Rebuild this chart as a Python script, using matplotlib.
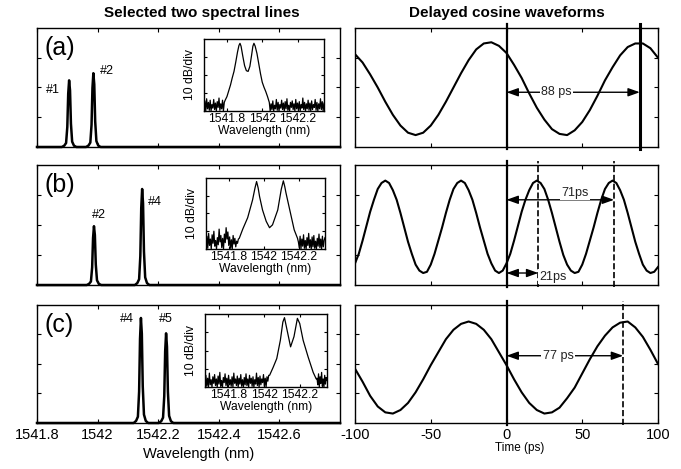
import numpy as np
import matplotlib
matplotlib.use("Agg")
import matplotlib.pyplot as plt

plt.rcParams['font.family'] = ['Liberation Sans', 'DejaVu Sans']

# ---- left column: the two selected lines (normalised height vs wavelength) ----
wl_ticks = [1541.8, 1542.0, 1542.2, 1542.4, 1542.6]
wl_tick_labels = ['1541.8', '1542', '1542.2', '1542.4', '1542.6']

# one measured line profile (offset in nm, relative height), reused for every line
peak_offset = [-0.024, -0.016, -0.010, -0.006, -0.003, 0.0, 0.003, 0.006, 0.010, 0.016, 0.024]
peak_shape = [0.0, 0.02, 0.06, 0.30, 0.80, 1.0, 0.85, 0.35, 0.08, 0.02, 0.0]

line_centres = {'a': [1541.906, 1541.986], 'b': [1541.988, 1542.147], 'c': [1542.143, 1542.226]}
line_heights = {'a': [0.56, 0.62], 'b': [0.49, 0.80], 'c': [0.89, 0.76]}
line_names = {'a': ['#1', '#2'], 'b': ['#2', '#4'], 'c': ['#4', '#5']}
name_pos = {'a': [(1541.853, 0.48), (1542.031, 0.64)],
            'b': [(1542.005, 0.58), (1542.19, 0.69)],
            'c': [(1542.097, 0.88), (1542.226, 0.88)]}

# ---- insets: optical spectrum, 10 dB/div (levels normalised to the box) ----
inset_ticks = [1541.8, 1542.0, 1542.2]
inset_tick_labels = ['1541.8', '1542', '1542.2']

sig_wl = {
    'a': [1541.79, 1541.80, 1541.81, 1541.82, 1541.83, 1541.84, 1541.85, 1541.86, 1541.868, 1541.874,
          1541.88, 1541.89, 1541.90, 1541.91, 1541.92, 1541.93, 1541.94, 1541.947, 1541.953, 1541.96,
          1541.97, 1541.98, 1541.99, 1542.00, 1542.01, 1542.02, 1542.03, 1542.04],
    'b': [1541.86, 1541.88, 1541.908, 1541.936, 1541.95, 1541.959, 1541.968, 1541.976, 1541.993, 1542.014,
          1542.033, 1542.05, 1542.08, 1542.10, 1542.112, 1542.12, 1542.127, 1542.155, 1542.174, 1542.193],
    'c': [1542.03, 1542.05, 1542.07, 1542.09, 1542.104, 1542.113, 1542.13, 1542.147, 1542.166, 1542.185,
          1542.198, 1542.217, 1542.245, 1542.273, 1542.29],
}
sig_lvl = {
    'a': [0.15, 0.20, 0.28, 0.36, 0.46, 0.55, 0.68, 0.82, 0.91, 0.94,
          0.90, 0.76, 0.63, 0.56, 0.55, 0.62, 0.78, 0.90, 0.94, 0.90,
          0.80, 0.66, 0.52, 0.40, 0.33, 0.27, 0.20, 0.12],
    'b': [0.15, 0.28, 0.44, 0.69, 0.86, 0.95, 0.86, 0.74, 0.55, 0.39,
          0.30, 0.34, 0.55, 0.84, 0.96, 0.88, 0.79, 0.48, 0.27, 0.15],
    'c': [0.16, 0.27, 0.39, 0.64, 0.89, 0.95, 0.75, 0.55, 0.69, 0.94,
          0.87, 0.64, 0.41, 0.20, 0.11],
}
# noise floor on either side of the signal, in % of the box height
noise_left = {
    'a': [2, 14, 0, 17, 3, 12, 1, 15, 0, 9, 4, 16, 2, 11, 0, 13, 5, 18, 1, 10, 3, 15, 0, 12],
    'b': [3, 18, 1, 22, 5, 14, 0, 20, 8, 25, 4, 12, 0, 16, 6, 28, 10, 19, 2, 15, 0, 21, 9, 30,
          14, 24, 5, 17, 1, 13, 0, 19, 7, 15, 3, 11, 8, 14],
    'c': [4, 16, 1, 12, 0, 19, 3, 10, 0, 14, 5, 17, 2, 11, 0, 15, 4, 20, 1, 9, 0, 13, 6, 18, 2,
          12, 0, 16, 3, 10, 1, 14, 0, 19, 5, 11, 2, 15, 0, 12, 4, 17, 1, 10, 0, 13, 3, 18, 2, 11,
          0, 16, 5, 12, 1, 14, 0, 10, 4, 19, 2, 13, 0, 15, 3, 11, 6, 17, 1, 12, 0, 14, 8, 16],
}
noise_right = {
    'a': [0, 10, 2, 14, 0, 8, 3, 16, 1, 12, 0, 9, 4, 15, 2, 11, 0, 13, 3, 17, 1, 8, 0, 12, 5, 14,
          2, 10, 0, 16, 3, 11, 1, 13, 0, 9, 4, 18, 2, 12, 0, 10, 3, 15, 1, 11, 0, 14, 2, 9, 5, 16,
          1, 12, 0, 10, 3, 17, 2, 13, 0, 11],
    'b': [10, 2, 18, 0, 14, 4, 20, 1, 12, 0, 16, 5, 22, 2, 13, 0, 17, 3, 19, 1, 11, 0, 15, 4, 21,
          2, 14, 0, 18, 3, 12, 16],
    'c': [12, 3, 18, 0, 14, 5, 20, 1, 11, 0, 16, 4, 13, 9],
}
inset_xlim = (1541.67, 1542.35)

# ---- right column: delayed cosine waveforms ----
time_a = np.arange(-100, 101, 5)
wave_a = [0.78, 0.71, 0.61, 0.50, 0.38, 0.27, 0.18, 0.12, 0.10, 0.12, 0.18, 0.27, 0.38, 0.50, 0.62,
          0.73, 0.82, 0.87, 0.88, 0.85, 0.79, 0.69, 0.58, 0.45, 0.33, 0.23, 0.15, 0.11, 0.10, 0.14,
          0.21, 0.31, 0.43, 0.56, 0.67, 0.77, 0.84, 0.87, 0.87, 0.83, 0.75]
time_b = np.arange(-100, 100.1, 2.5)
wave_b = [0.18, 0.26, 0.37, 0.49, 0.61, 0.71, 0.80, 0.85, 0.87, 0.85, 0.79, 0.71, 0.60, 0.48, 0.36,
          0.26, 0.17, 0.12, 0.10, 0.11, 0.17, 0.26, 0.37, 0.48, 0.60, 0.71, 0.80, 0.85, 0.87, 0.85,
          0.79, 0.71, 0.60, 0.48, 0.37, 0.26, 0.18, 0.12, 0.10, 0.12, 0.18, 0.26, 0.37, 0.49, 0.61,
          0.71, 0.79, 0.85, 0.87, 0.85, 0.80, 0.71, 0.60, 0.48, 0.36, 0.25, 0.17, 0.12, 0.10, 0.11,
          0.17, 0.26, 0.37, 0.48, 0.60, 0.71, 0.80, 0.85, 0.87, 0.85, 0.79, 0.71, 0.60, 0.48, 0.36,
          0.26, 0.17, 0.12, 0.10, 0.11, 0.15]
time_c = np.arange(-100, 101, 5)
wave_c = [0.46, 0.35, 0.23, 0.14, 0.09, 0.08, 0.11, 0.17, 0.26, 0.37, 0.49, 0.60, 0.71, 0.79, 0.84,
          0.86, 0.84, 0.79, 0.71, 0.60, 0.49, 0.37, 0.26, 0.17, 0.11, 0.08, 0.09, 0.13, 0.21, 0.30,
          0.42, 0.54, 0.65, 0.74, 0.81, 0.85, 0.86, 0.81, 0.73, 0.62, 0.50]

# delay markers (time, line style, width) and the arrows with their labels
markers = {'a': [(0, '-', 1.6), (88, '-', 2.2)],
           'b': [(0, '-', 1.6), (21, '--', 1.2), (71, '--', 1.2)],
           'c': [(0, '-', 1.6), (77, '--', 1.2)]}
arrows = {'a': [(0, 88, 0.46, '88 ps', 33, 0.46, 'center')],
          'b': [(0, 71, 0.71, '71ps', 45, 0.77, 'center'), (0, 21, 0.10, '21ps', 21.5, 0.07, 'left')],
          'c': [(0, 77, 0.57, '77 ps', 34, 0.57, 'center')]}

panels = ['a', 'b', 'c']
row_bottom = [0.6866, 0.3923, 0.0981]
row_height = [0.2537, 0.2559, 0.2516]
inset_box = {'a': (204, 39, 120, 72), 'b': (206, 178, 119, 71), 'c': (205, 314, 122, 73)}
waves = {'a': (time_a, wave_a), 'b': (time_b, wave_b), 'c': (time_c, wave_c)}

W, H = 681, 469
fig = plt.figure(figsize=(W / 100, H / 100), dpi=100)


def style(ax, size=3):
    ax.tick_params(direction='in', top=True, right=True, length=size, width=0.8)
    for s in ax.spines.values():
        s.set_linewidth(1.0)


for i, p in enumerate(panels):
    # spectrum of the two lines
    axl = fig.add_axes([37 / W, row_bottom[i], 303 / W, row_height[i]])
    xs, ys = [1541.8], [0.0]
    for c, h in zip(line_centres[p], line_heights[p]):
        xs += [c + o for o in peak_offset]
        ys += [h * s for s in peak_shape]
    xs.append(1542.8)
    ys.append(0.0)
    axl.plot(xs, ys, color='k', lw=1.8, clip_on=False)
    axl.set_xlim(1541.8, 1542.8)
    axl.set_ylim(0, 1)
    axl.set_xticks(wl_ticks)
    axl.set_yticks([0.25, 0.5, 0.75])
    axl.set_yticklabels([])
    style(axl)
    if p == 'c':
        axl.set_xticklabels(wl_tick_labels, fontsize=10.5)
        axl.set_xlabel('Wavelength (nm)', fontsize=10.5, labelpad=5)
        axl.xaxis.set_label_coords(0.535, -0.2)
    else:
        axl.set_xticklabels([])
    axl.text(0.025, 0.93, '(' + p + ')', transform=axl.transAxes, fontsize=18,
             ha='left', va='top')
    for name, (tx, ty) in zip(line_names[p], name_pos[p]):
        axl.text(tx, ty, name, fontsize=9, ha='center', va='center')

    # inset optical spectrum
    bx, by, bw, bh = inset_box[p]
    axi = fig.add_axes([bx / W, 1 - (by + bh) / H, bw / W, bh / H])
    nl = noise_left[p]
    nr = noise_right[p]
    xl = np.linspace(inset_xlim[0], sig_wl[p][0], len(nl) + 1)[:-1]
    xr = np.linspace(sig_wl[p][-1], inset_xlim[1], len(nr) + 1)[1:]
    ix = list(xl) + sig_wl[p] + list(xr)
    iy = [v / 100 for v in nl] + sig_lvl[p] + [v / 100 for v in nr]
    axi.plot(ix, iy, color='k', lw=0.9)
    axi.set_xlim(*inset_xlim)
    axi.set_ylim(0, 1)
    axi.set_xticks(inset_ticks)
    axi.set_xticklabels(inset_tick_labels, fontsize=8.7)
    axi.set_yticks([0.25, 0.5, 0.75])
    axi.set_yticklabels([])
    axi.set_xlabel('Wavelength (nm)', fontsize=8.7, labelpad=0)
    axi.set_ylabel('10 dB/div', fontsize=8.7, labelpad=2)
    axi.tick_params(axis='x', pad=1.5)
    style(axi, 2.5)

    # delayed cosine waveform
    axr = fig.add_axes([355 / W, row_bottom[i], 303 / W, row_height[i]])
    t, v = waves[p]
    axr.plot(t, v, color='k', lw=1.5)
    for d, ls, lw in markers[p]:
        axr.plot([d, d], [-0.02, 1.03], color='k', ls=ls, lw=lw, clip_on=False)
    for x0, x1, yy, lab, tx, ty, ha in arrows[p]:
        axr.annotate('', xy=(x0, yy), xytext=(x1, yy),
                     arrowprops=dict(arrowstyle='<|-|>,head_length=0.7,head_width=0.25',
                                     color='k', lw=1.0, shrinkA=0, shrinkB=0))
        axr.text(tx, ty, lab, fontsize=9, ha=ha, va='center', color='#222222',
                 bbox=dict(facecolor='white', edgecolor='none', pad=1.0))
    axr.set_xlim(-100, 100)
    axr.set_ylim(0, 1)
    axr.set_xticks([-100, -50, 0, 50, 100])
    axr.set_yticks([0.25, 0.5, 0.75])
    axr.set_yticklabels([])
    style(axr)
    if p == 'c':
        axr.set_xticklabels(['-100', '-50', '0', '50', '100'], fontsize=10.5)
        axr.set_xlabel('Time (ps)', fontsize=8.5)
        axr.xaxis.set_label_coords(0.545, -0.165)
    else:
        axr.set_xticklabels([])

fig.text(202 / W, 1 - 13 / H, 'Selected two spectral lines', fontsize=11,
         fontweight='bold', ha='center', va='center')
fig.text(507 / W, 1 - 13 / H, 'Delayed cosine waveforms', fontsize=11,
         fontweight='bold', ha='center', va='center')

fig.savefig('out.png', dpi=100)
